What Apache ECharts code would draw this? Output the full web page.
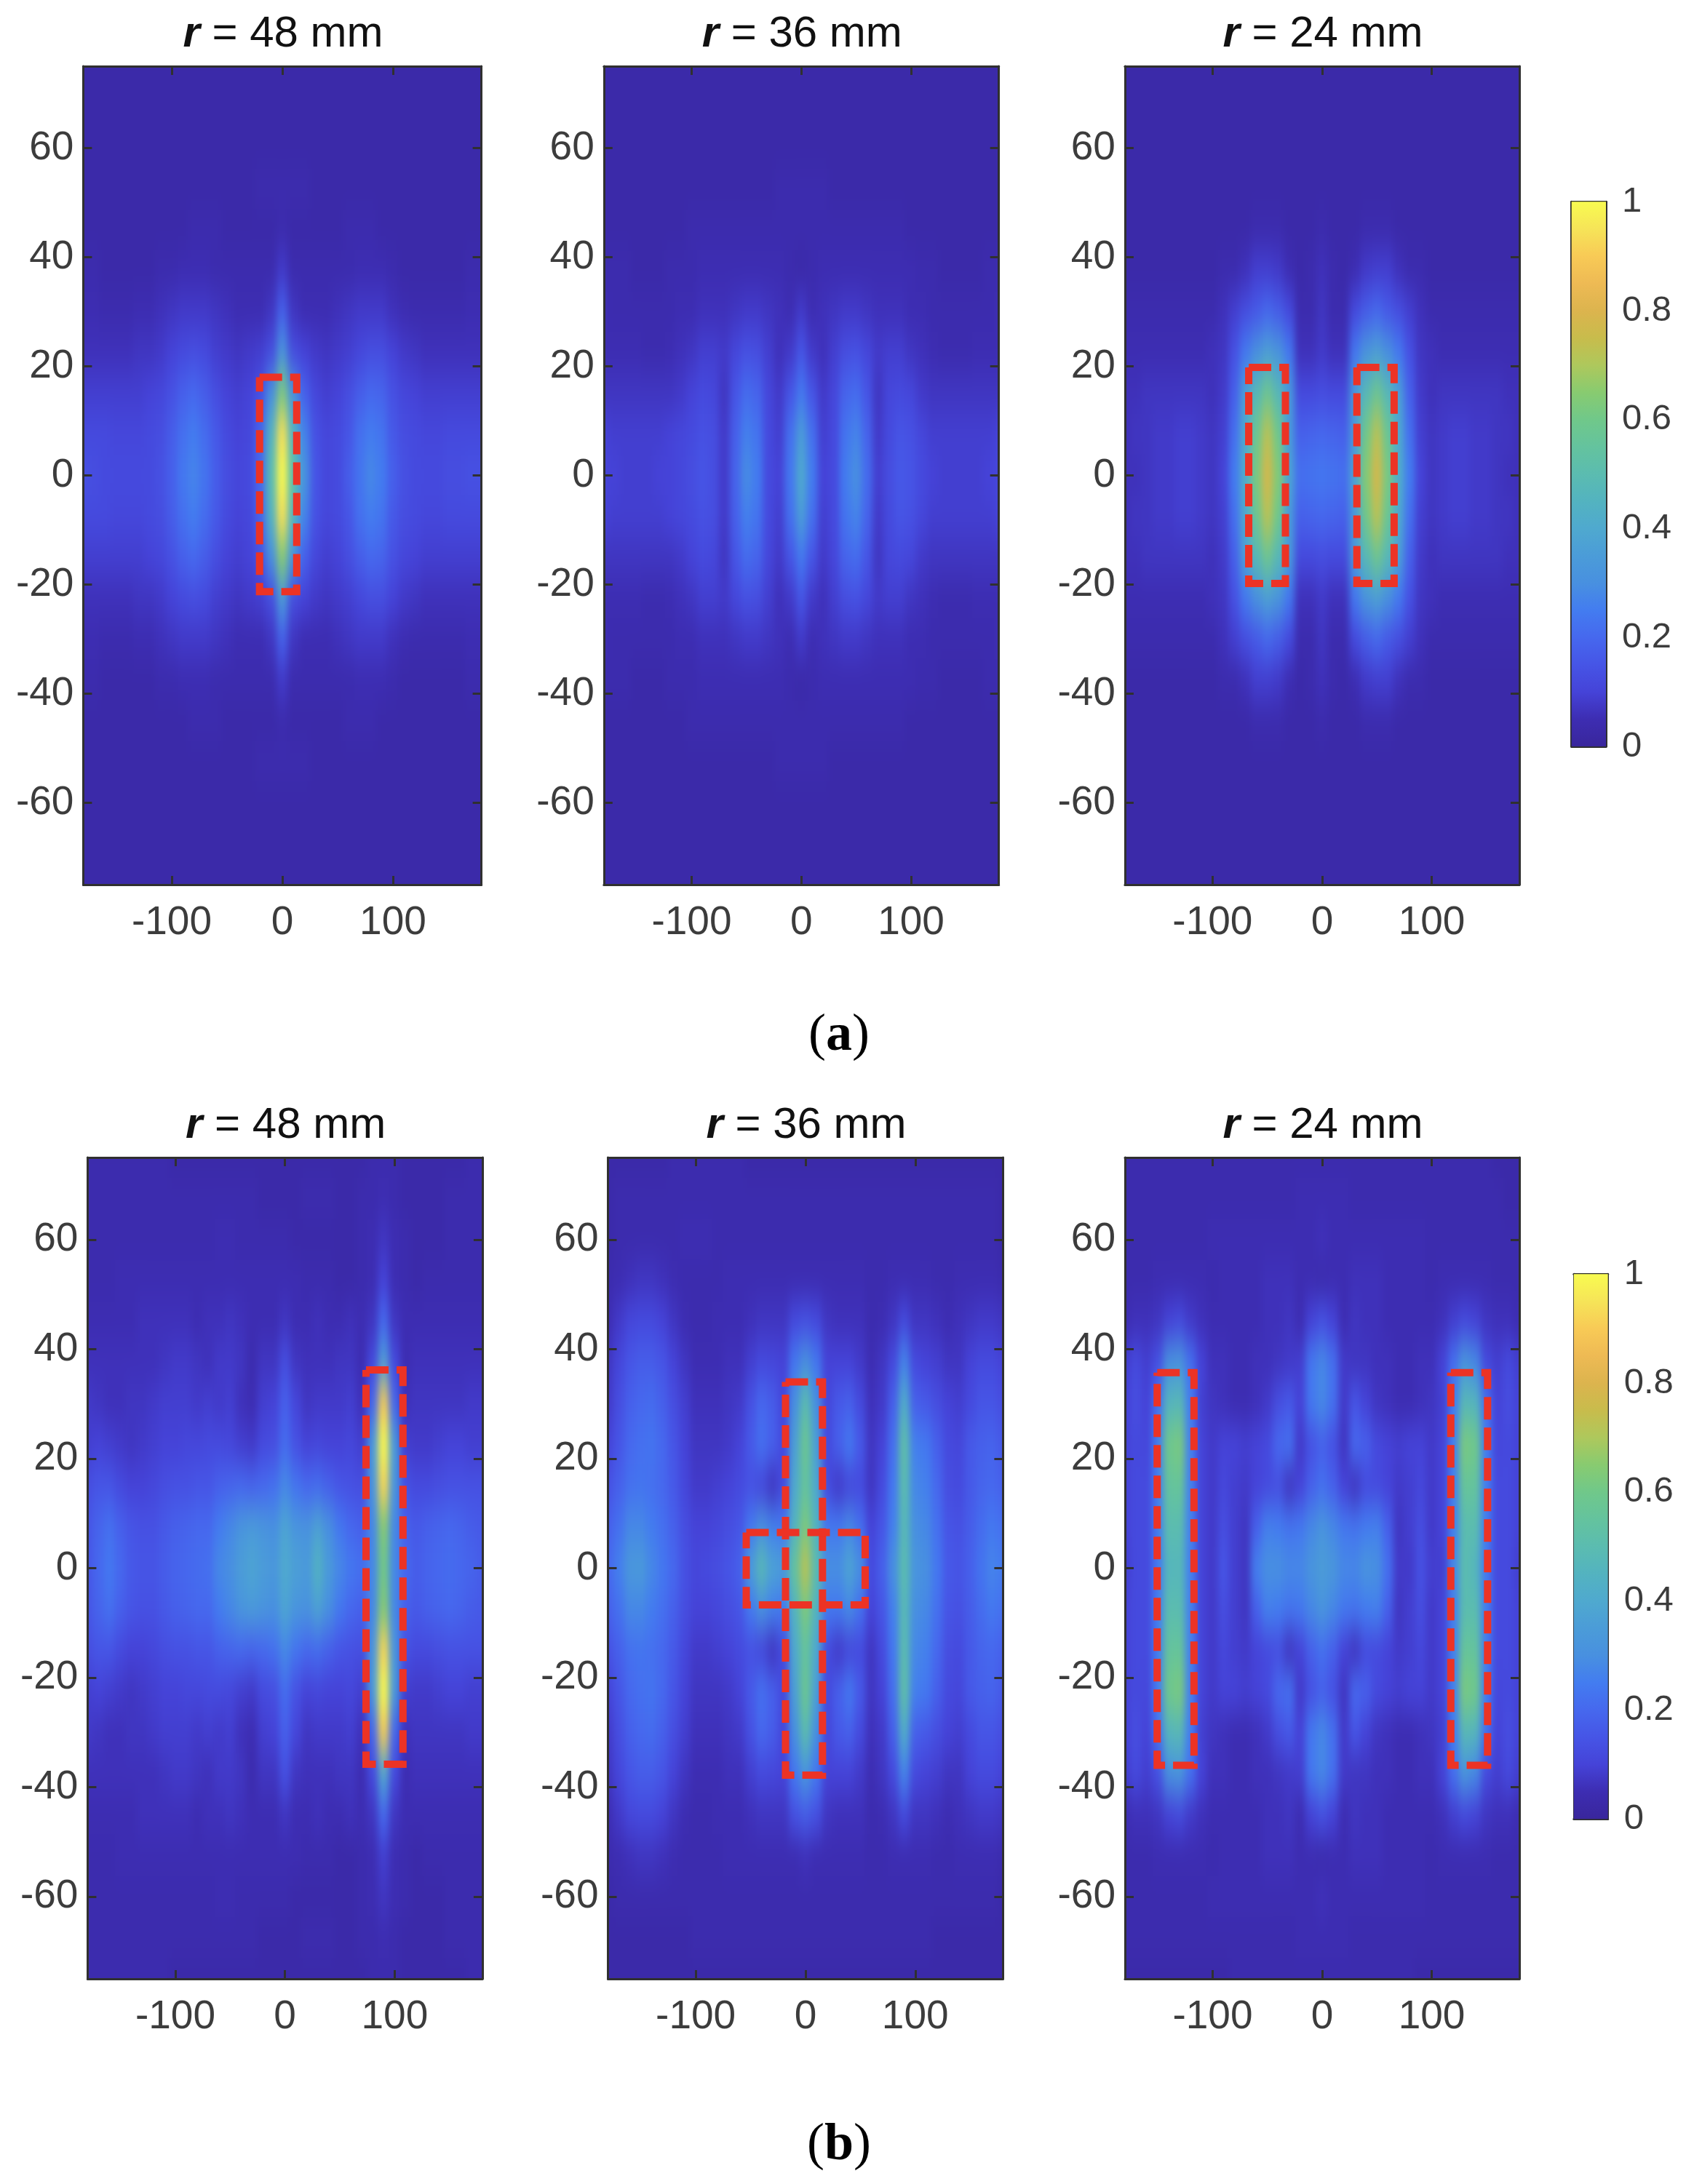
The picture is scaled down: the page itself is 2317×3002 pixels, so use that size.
<!DOCTYPE html>
<html><head><meta charset="utf-8">
<script src="https://cdn.jsdelivr.net/npm/echarts@6/dist/echarts.min.js"></script>
<style>
html,body{margin:0;padding:0;background:#fff}
#clip,#under,#over{position:absolute;left:0;top:0;width:2317px;height:3002px}
#under{filter:url(#soft)}
</style></head><body>
<svg width="0" height="0" style="position:absolute"><filter id="soft" x="0" y="0" width="100%" height="100%" color-interpolation-filters="sRGB"><feGaussianBlur stdDeviation="5 22"/></filter></svg>
<div id="clip"><div id="under"></div></div>
<div id="over"></div>
<script>
// Sampled x positions, mm
const xSamples = [-180,-170,-160,-150,-140,-130,-120,-110,-100,-90,-80,-70,-60,-50,-40,-30,-20,-10,0,10,20,30,40,50,60,70,80,90,100,110,120,130,140,150,160,170,180];
// Sampled y positions, mm
const ySamples = [75,67.5,60,52.5,45,37.5,30,22.5,15,7.5,0,-7.5,-15,-22.5,-30,-37.5,-45,-52.5,-60,-67.5,-75];
const xTicks = [-100,0,100];
const yTicks = [-60,-40,-20,0,20,40,60];
const titlesR = ['48','36','24'];

// Normalised intensity, percent
const a1 = [
[3,3,3,3,3,3,3,3,3,3,3,3,3,3,3,3,3,3,3,3,3,3,3,3,3,3,3,3,3,3,3,3,3,3,3,3,3],
[3,3,3,3,3,3,3,3,3,3,3,3,3,3,3,3,3,3,3,3,3,3,3,3,3,3,3,3,3,3,3,3,3,3,3,3,3],
[3,3,3,3,3,3,3,3,3,3,3,3,3,3,3,3,3,3,3,3,3,3,3,3,3,3,3,3,3,3,3,3,3,3,3,3,3],
[3,3,3,3,3,3,3,3,3,3,3,3,3,3,3,3,4,4,4,4,4,3,3,3,3,3,3,3,3,3,3,3,3,3,3,3,3],
[3,3,3,3,3,3,3,3,3,3,4,4,4,3,3,3,3,3,4,3,3,3,3,3,4,4,4,3,3,3,3,3,3,3,3,3,3],
[4,4,3,3,3,3,3,4,4,5,5,5,4,4,4,4,4,4,8,4,4,4,4,4,4,5,5,5,4,3,3,3,3,3,3,4,4],
[5,5,4,4,4,5,5,6,7,8,8,8,7,6,5,5,5,7,18,7,5,5,5,6,7,8,8,8,6,5,4,4,4,4,4,5,5],
[6,6,6,6,6,7,7,8,10,12,13,12,9,8,7,8,9,13,32,13,10,8,7,8,9,11,13,13,10,8,7,6,6,6,6,6,6],
[9,9,9,9,9,9,10,11,14,18,20,17,13,10,9,10,14,30,62,32,18,11,9,10,13,17,20,19,14,11,10,9,9,9,9,9,9],
[12,12,12,11,11,11,12,13,17,22,25,21,16,12,10,11,19,45,94,46,27,14,11,12,15,22,25,23,16,13,12,11,11,12,12,12,12],
[14,13,12,12,12,12,12,14,18,24,27,23,17,13,11,12,20,50,100,52,32,15,11,12,17,23,28,25,18,14,12,12,12,13,13,14,14],
[12,12,12,11,11,11,12,13,17,22,25,21,16,12,10,11,19,45,94,46,27,14,11,12,15,22,25,23,16,13,12,11,11,12,12,12,12],
[9,9,9,9,9,9,10,11,14,18,20,17,13,10,9,10,14,30,64,32,18,11,9,10,13,17,20,19,14,11,10,9,9,9,9,9,9],
[6,6,6,6,6,7,7,8,10,12,13,12,9,8,7,8,9,13,34,13,10,8,7,8,9,11,13,13,10,8,7,6,6,6,6,6,6],
[5,5,4,4,4,5,5,6,7,8,8,8,7,6,5,5,5,7,18,7,5,5,5,6,7,8,8,8,6,5,4,4,4,4,4,5,5],
[4,4,3,3,3,3,3,4,4,5,5,5,4,4,4,4,4,4,8,4,4,4,4,4,4,5,5,5,4,3,3,3,3,3,3,4,4],
[3,3,3,3,3,3,3,3,3,3,4,4,4,3,3,3,3,3,4,3,3,3,3,3,4,4,4,3,3,3,3,3,3,3,3,3,3],
[3,3,3,3,3,3,3,3,3,3,3,3,3,3,3,3,4,4,4,4,4,3,3,3,3,3,3,3,3,3,3,3,3,3,3,3,3],
[3,3,3,3,3,3,3,3,3,3,3,3,3,3,3,3,3,3,3,3,3,3,3,3,3,3,3,3,3,3,3,3,3,3,3,3,3],
[3,3,3,3,3,3,3,3,3,3,3,3,3,3,3,3,3,3,3,3,3,3,3,3,3,3,3,3,3,3,3,3,3,3,3,3,3],
[3,3,3,3,3,3,3,3,3,3,3,3,3,3,3,3,3,3,3,3,3,3,3,3,3,3,3,3,3,3,3,3,3,3,3,3,3]
];
const a2 = [
[3,3,3,3,3,3,3,3,3,3,3,3,3,3,3,3,3,3,3,3,3,3,3,3,3,3,3,3,3,3,3,3,3,3,3,3,3],
[3,3,3,3,3,3,3,3,3,3,3,3,3,3,3,3,3,3,3,3,3,3,3,3,3,3,3,3,3,3,3,3,3,3,3,3,3],
[3,3,3,3,3,3,3,3,3,3,3,3,3,3,3,3,3,3,3,3,3,3,3,3,3,3,3,3,3,3,3,3,3,3,3,3,3],
[3,3,3,3,3,3,3,3,3,3,3,3,3,3,3,3,4,4,4,4,4,3,3,3,3,3,3,3,3,3,3,3,3,3,3,3,3],
[3,3,3,3,3,3,3,3,4,4,4,4,4,4,4,4,4,4,4,4,4,4,4,4,4,4,4,4,3,3,3,3,3,3,3,3,3],
[4,4,4,3,3,3,4,4,4,5,5,5,5,5,5,5,5,4,3,4,5,5,5,5,5,5,5,5,5,4,4,3,3,3,3,4,4],
[5,4,4,4,4,4,4,5,5,6,6,6,7,8,8,7,6,5,8,5,6,7,8,8,7,6,6,6,5,5,4,4,4,4,4,4,5],
[5,5,5,5,4,4,5,6,7,9,9,8,11,14,13,9,6,8,15,8,6,9,13,14,11,8,9,9,7,6,5,4,4,4,5,5,5],
[7,7,7,7,7,7,7,8,10,12,11,7,15,21,19,11,8,15,24,15,8,11,19,21,15,7,11,12,11,8,7,7,7,7,7,7,7],
[10,9,9,9,9,9,10,11,12,14,13,8,18,26,23,12,9,22,35,22,9,12,23,27,19,8,12,15,14,11,9,9,9,9,9,9,10],
[10,10,9,9,9,10,10,11,13,15,13,8,19,29,25,12,10,24,40,25,10,12,25,30,21,9,13,16,15,12,10,9,9,9,9,10,11],
[10,9,9,9,9,9,10,11,12,14,13,8,18,26,23,12,9,22,35,22,9,12,23,27,19,8,12,15,14,11,9,9,9,9,9,9,10],
[7,7,7,7,7,7,7,8,10,12,11,7,15,21,19,11,8,15,24,15,8,11,19,21,15,7,11,12,11,8,7,7,7,7,7,7,7],
[5,5,5,5,4,4,5,6,7,9,9,8,11,14,13,9,6,8,15,8,6,9,13,14,11,8,9,9,7,6,5,4,4,4,5,5,5],
[5,4,4,4,4,4,4,5,5,6,6,6,7,8,8,7,6,5,8,5,6,7,8,8,7,6,6,6,5,5,4,4,4,4,4,4,5],
[4,4,4,3,3,3,4,4,4,5,5,5,5,5,5,5,5,4,3,4,5,5,5,5,5,5,5,5,5,4,4,3,3,3,3,4,4],
[3,3,3,3,3,3,3,3,4,4,4,4,4,4,4,4,4,4,4,4,4,4,4,4,4,4,4,4,3,3,3,3,3,3,3,3,3],
[3,3,3,3,3,3,3,3,3,3,3,3,3,3,3,3,4,4,4,4,4,3,3,3,3,3,3,3,3,3,3,3,3,3,3,3,3],
[3,3,3,3,3,3,3,3,3,3,3,3,3,3,3,3,3,3,3,3,3,3,3,3,3,3,3,3,3,3,3,3,3,3,3,3,3],
[3,3,3,3,3,3,3,3,3,3,3,3,3,3,3,3,3,3,3,3,3,3,3,3,3,3,3,3,3,3,3,3,3,3,3,3,3],
[3,3,3,3,3,3,3,3,3,3,3,3,3,3,3,3,3,3,3,3,3,3,3,3,3,3,3,3,3,3,3,3,3,3,3,3,3]
];
const a3 = [
[3,3,3,3,3,3,3,3,3,3,3,3,3,3,3,3,3,3,3,3,3,3,3,3,3,3,3,3,3,3,3,3,3,3,3,3,3],
[3,3,3,3,3,3,3,3,3,3,3,3,3,3,3,3,3,3,3,3,3,3,3,3,3,3,3,3,3,3,3,3,3,3,3,3,3],
[3,3,3,3,3,3,3,3,3,3,3,3,3,3,3,3,3,3,3,3,3,3,3,3,3,3,3,3,3,3,3,3,3,3,3,3,3],
[3,3,3,3,3,3,3,3,3,3,3,3,3,3,3,3,3,3,3,3,3,3,3,3,3,3,3,3,3,3,3,3,3,3,3,3,3],
[3,3,3,3,3,3,3,3,3,3,3,3,4,4,4,3,3,3,4,3,3,3,4,4,4,3,3,3,3,3,3,3,3,3,3,3,3],
[3,3,3,3,3,3,3,3,3,4,4,6,9,9,8,5,3,4,6,4,3,5,8,9,9,6,4,4,3,3,3,3,3,3,3,3,3],
[4,4,4,4,4,4,4,4,4,6,9,13,16,20,17,12,4,4,7,4,4,12,17,20,16,13,9,6,4,4,4,4,4,4,4,4,4],
[5,5,5,5,5,5,5,5,6,7,14,24,30,36,32,24,6,6,8,6,6,24,32,36,30,24,14,7,6,5,5,5,5,5,5,5,5],
[6,6,7,7,7,7,7,7,6,8,18,36,48,58,48,34,12,12,13,12,12,34,48,58,48,36,18,8,6,7,7,7,7,7,7,6,6],
[6,7,7,8,8,9,9,8,7,9,22,40,58,72,60,34,18,19,20,19,18,34,60,72,58,40,22,9,7,8,9,9,8,8,7,7,6],
[6,6,7,8,8,9,9,8,7,10,25,42,62,78,64,38,22,23,24,23,22,38,64,78,62,42,25,10,7,8,9,9,8,8,7,6,6],
[6,7,7,8,8,9,9,8,7,9,22,40,58,72,60,34,18,19,20,19,18,34,60,72,58,40,22,9,7,8,9,9,8,8,7,7,6],
[6,6,7,7,7,7,7,7,6,8,18,36,48,58,48,34,12,12,13,12,12,34,48,58,48,36,18,8,6,7,7,7,7,7,7,6,6],
[5,5,5,5,5,5,5,5,6,7,14,24,30,36,32,24,6,6,8,6,6,24,32,36,30,24,14,7,6,5,5,5,5,5,5,5,5],
[4,4,4,4,4,4,4,4,4,6,9,13,16,20,17,12,4,4,7,4,4,12,17,20,16,13,9,6,4,4,4,4,4,4,4,4,4],
[3,3,3,3,3,3,3,3,3,4,4,6,9,9,8,5,3,4,6,4,3,5,8,9,9,6,4,4,3,3,3,3,3,3,3,3,3],
[3,3,3,3,3,3,3,3,3,3,3,3,4,4,4,3,3,3,4,3,3,3,4,4,4,3,3,3,3,3,3,3,3,3,3,3,3],
[3,3,3,3,3,3,3,3,3,3,3,3,3,3,3,3,3,3,3,3,3,3,3,3,3,3,3,3,3,3,3,3,3,3,3,3,3],
[3,3,3,3,3,3,3,3,3,3,3,3,3,3,3,3,3,3,3,3,3,3,3,3,3,3,3,3,3,3,3,3,3,3,3,3,3],
[3,3,3,3,3,3,3,3,3,3,3,3,3,3,3,3,3,3,3,3,3,3,3,3,3,3,3,3,3,3,3,3,3,3,3,3,3],
[3,3,3,3,3,3,3,3,3,3,3,3,3,3,3,3,3,3,3,3,3,3,3,3,3,3,3,3,3,3,3,3,3,3,3,3,3]
];
const b1 = [
[4,4,4,4,4,4,4,4,3,3,3,3,3,3,3,3,3,3,3,3,3,3,3,3,3,3,4,4,4,3,3,3,3,3,3,4,4],
[4,4,4,4,4,4,4,4,4,4,4,4,4,4,4,4,3,3,3,3,4,4,4,3,3,4,4,5,4,3,3,3,3,4,4,4,4],
[4,4,4,4,4,4,4,4,4,4,4,4,5,5,4,4,4,4,4,3,3,3,3,3,3,4,5,7,5,4,3,3,3,4,4,4,4],
[4,4,4,5,5,5,5,5,5,5,5,5,5,5,5,5,5,5,5,5,4,4,4,3,3,4,5,10,5,4,3,4,4,4,4,4,4],
[5,5,5,5,5,6,6,6,6,6,5,6,6,7,6,5,5,5,7,5,5,6,5,5,6,5,7,20,7,5,5,5,5,5,5,5,5],
[6,6,6,6,6,6,6,7,8,8,7,6,8,8,7,4,7,7,13,7,6,6,6,7,7,5,12,36,12,5,6,6,6,6,6,6,6],
[8,7,6,6,7,7,8,9,9,9,8,9,8,9,6,5,9,10,18,11,7,8,8,8,9,6,20,90,20,6,7,7,7,7,7,8,8],
[9,10,9,8,7,8,9,10,10,11,11,12,12,11,9,8,12,13,21,14,10,11,10,10,11,9,34,100,34,9,8,8,9,10,10,9,9],
[13,15,15,12,10,10,11,13,14,14,15,15,18,19,20,19,20,22,28,23,20,21,18,15,14,13,32,92,32,14,12,12,13,14,14,14,14],
[15,19,22,18,15,14,14,16,18,19,20,20,25,28,32,34,32,30,38,32,31,37,30,24,20,18,28,64,28,18,16,18,19,20,19,17,16],
[15,20,24,20,16,15,15,17,19,20,21,22,28,30,35,38,35,33,40,36,34,44,34,28,24,22,28,60,28,20,17,19,20,21,20,19,17],
[15,19,22,18,15,14,14,16,18,19,20,20,25,28,32,34,32,30,38,32,31,37,30,24,20,18,28,64,28,18,16,18,19,20,19,17,16],
[13,15,15,12,10,10,11,13,14,14,15,15,18,19,20,19,20,22,28,23,20,21,18,15,14,13,32,92,32,14,12,12,13,14,14,14,14],
[9,10,9,8,7,8,9,10,10,11,11,12,12,11,9,8,12,13,21,14,10,11,10,10,11,9,34,100,34,9,8,8,9,10,10,9,9],
[8,7,6,6,7,7,8,9,9,9,8,9,8,9,6,5,9,10,18,11,7,8,8,8,9,6,20,90,20,6,7,7,7,7,7,8,8],
[6,6,6,6,6,6,6,7,8,8,7,6,8,8,7,4,7,7,14,7,6,6,6,7,7,5,12,40,12,5,6,6,6,6,6,6,6],
[5,5,5,5,5,6,6,6,6,6,5,6,6,7,6,5,5,5,7,5,5,6,5,5,6,5,7,20,7,5,5,5,5,5,5,5,5],
[4,4,4,5,5,5,5,5,5,5,5,5,5,5,5,5,5,5,5,5,4,4,4,3,3,4,5,9,5,4,3,4,4,4,4,4,4],
[4,4,4,4,4,4,4,4,4,4,4,4,5,5,4,4,4,4,4,3,3,3,3,3,3,4,5,7,5,4,3,3,3,4,4,4,4],
[4,4,4,4,4,4,4,4,4,4,4,4,4,4,4,4,3,3,3,3,4,4,4,3,3,4,4,5,4,3,3,3,3,4,4,4,4],
[4,4,4,4,4,4,4,4,3,3,3,3,3,3,3,3,3,3,3,3,3,3,3,3,3,3,4,4,4,3,3,3,3,3,3,4,4]
];
const b2 = [
[3,3,3,3,3,3,4,4,4,4,4,4,4,3,3,3,3,3,3,3,3,3,3,3,3,3,3,3,3,3,3,3,3,3,3,3,3],
[3,4,4,4,4,4,4,4,4,4,4,4,4,4,4,4,4,4,4,4,4,4,4,4,4,4,4,4,4,4,4,4,4,4,4,4,3],
[3,4,4,4,4,4,4,5,5,5,4,4,4,4,4,4,4,4,4,4,4,4,4,4,4,4,4,4,4,4,4,4,4,4,4,4,3],
[4,5,6,7,7,6,5,4,4,4,4,5,5,5,5,5,5,5,5,5,5,5,5,5,4,4,5,5,5,5,4,4,5,5,5,5,4],
[5,8,11,12,12,10,7,5,4,4,5,5,5,6,7,7,7,12,14,12,7,6,6,6,4,5,7,12,7,7,6,5,6,7,8,8,7],
[7,11,15,17,17,15,10,7,5,5,5,6,6,9,12,11,10,24,30,24,10,10,10,8,5,7,12,27,12,10,9,7,7,10,12,12,10],
[8,13,18,20,21,18,13,9,6,6,6,7,8,14,20,17,11,30,50,30,11,16,18,12,6,8,18,42,18,16,13,10,9,12,15,15,13],
[10,15,20,22,23,20,15,10,7,7,7,8,10,16,22,18,12,36,58,36,12,18,24,16,7,10,22,52,26,24,18,12,11,16,18,19,16],
[14,18,22,23,22,20,16,11,8,8,9,10,12,14,11,7,12,40,55,40,12,8,11,12,7,12,24,50,28,26,20,13,12,16,19,20,18],
[18,22,28,28,25,22,18,13,10,10,11,13,15,24,30,26,24,45,62,45,24,24,28,22,10,15,26,48,30,28,22,15,14,17,21,24,22],
[20,26,33,34,28,24,20,14,11,12,13,15,18,35,48,38,35,55,72,50,30,30,38,30,12,18,30,50,32,30,24,16,15,18,23,27,25],
[18,22,28,28,25,22,18,13,10,10,11,13,15,24,30,26,24,45,62,45,24,24,28,22,10,15,26,48,30,28,22,15,14,17,21,24,22],
[14,18,22,23,22,20,16,11,8,8,9,10,12,14,11,7,12,40,55,40,12,8,11,12,7,12,24,50,28,26,20,13,12,16,19,20,18],
[10,15,20,22,23,20,15,10,7,7,7,8,10,16,22,18,12,36,58,36,12,18,24,16,7,10,22,52,26,24,18,12,11,16,18,19,16],
[8,13,18,20,21,18,13,9,6,6,6,7,8,14,20,17,11,30,50,30,11,16,18,12,6,8,18,42,18,16,13,10,9,12,15,15,13],
[7,11,15,17,17,15,10,7,5,5,5,6,6,9,12,11,10,24,32,24,10,10,10,8,5,7,12,27,12,10,9,7,7,10,12,12,10],
[5,8,11,12,12,10,7,5,4,4,5,5,5,6,7,7,7,14,17,14,7,6,6,6,4,5,7,12,7,7,6,5,6,7,8,8,7],
[4,5,6,7,7,6,5,4,4,4,4,5,5,5,5,5,5,5,6,5,5,5,5,5,4,4,5,5,5,5,4,4,5,5,5,5,4],
[3,4,4,4,4,4,4,4,4,4,4,4,4,4,4,4,4,4,4,4,4,4,4,4,4,4,4,4,4,4,4,4,4,4,4,4,3],
[3,3,3,3,3,3,3,3,4,4,4,4,4,4,4,4,4,4,4,4,4,4,4,4,4,4,4,4,4,4,3,3,3,3,3,3,3],
[3,3,3,3,3,3,3,3,3,3,3,3,3,3,3,3,3,3,3,3,3,3,3,3,3,3,3,3,3,3,3,3,3,3,3,3,3]
];
const b3 = [
[4,4,4,4,4,4,4,4,4,4,4,4,4,4,4,4,4,4,4,4,4,4,4,4,4,4,4,4,4,4,4,4,4,4,3,3,3],
[4,4,4,4,4,4,4,4,4,4,4,4,4,4,4,4,5,5,5,5,5,4,4,4,4,4,4,4,4,4,4,4,4,4,4,3,3],
[4,4,4,4,4,4,4,4,5,5,5,5,5,5,5,5,5,5,6,5,5,5,5,5,5,5,5,5,4,4,4,4,4,4,4,4,4],
[4,4,4,5,5,5,5,5,4,5,5,5,5,6,6,6,5,5,4,5,5,6,6,6,5,5,5,5,4,5,5,5,5,5,4,4,4],
[5,6,6,7,10,12,8,6,5,5,5,5,5,6,6,7,5,10,14,10,5,7,6,6,5,5,5,5,5,6,9,12,10,7,6,6,5],
[9,12,9,14,30,32,22,10,6,6,5,5,6,6,7,8,9,24,28,22,8,7,7,6,6,5,5,6,6,10,22,32,28,12,9,12,9],
[10,13,10,22,46,48,25,9,7,6,5,5,6,8,13,16,10,24,28,22,8,15,10,7,6,5,5,6,7,9,25,48,46,22,10,13,10],
[10,12,11,25,60,62,26,10,8,10,10,9,10,12,20,22,8,14,18,14,7,20,18,12,10,9,10,10,8,10,26,62,60,25,11,12,10],
[10,12,12,25,55,56,26,10,8,11,9,8,10,12,13,7,10,18,22,18,10,7,12,12,10,8,9,11,8,10,26,56,55,25,12,12,10],
[10,12,12,25,50,50,26,10,8,13,9,7,18,26,25,23,24,28,32,28,24,23,25,26,18,7,9,13,8,10,26,50,50,25,12,12,10],
[9,12,12,24,46,47,26,10,8,15,9,7,26,30,30,28,28,32,35,33,28,28,32,30,22,8,8,14,9,9,28,50,46,24,12,12,9],
[10,12,12,25,50,50,26,10,8,13,9,7,18,26,25,23,24,28,32,28,24,23,25,26,18,7,9,13,8,10,26,50,50,25,12,12,10],
[10,12,12,25,55,56,26,10,8,11,9,8,10,12,13,7,10,18,22,18,10,7,12,12,10,8,9,11,8,10,26,56,55,25,12,12,10],
[10,12,11,25,60,62,26,10,8,10,10,9,10,12,20,22,8,14,18,14,7,20,18,12,10,9,10,10,8,10,26,62,60,25,11,12,10],
[10,13,10,22,46,48,25,9,7,6,5,5,6,8,13,16,10,24,28,22,8,15,10,7,6,5,5,6,7,9,25,48,46,22,10,13,10],
[9,12,9,14,30,32,22,10,6,6,5,5,6,6,7,8,9,24,28,22,8,7,7,6,6,5,5,6,6,10,22,32,28,12,9,12,9],
[5,6,6,7,10,12,8,6,5,5,5,5,5,6,6,7,5,10,14,10,5,7,6,6,5,5,5,5,5,6,9,12,10,7,6,6,5],
[4,4,4,5,5,5,5,5,4,5,5,5,5,6,6,6,5,5,4,5,5,6,6,6,5,5,5,5,4,5,5,5,5,5,4,4,4],
[4,4,4,4,4,4,4,4,5,5,5,5,5,5,5,5,5,5,6,5,5,5,5,5,5,5,5,5,4,4,4,4,4,4,4,4,4],
[4,4,4,4,4,4,4,4,4,4,4,4,4,4,4,4,5,5,5,5,5,4,4,4,4,4,4,4,4,4,4,4,4,4,4,4,4],
[3,3,3,3,3,3,3,3,3,3,4,4,4,4,4,4,4,4,4,4,4,4,4,4,4,4,4,3,3,3,3,3,3,3,3,3,3]
];

// Dashed outlines: [xMin, xMax, yTop, yBottom] in mm
const boxesA1 = [[-20.6,13,18,-21.3]];
const boxesA2 = [];
const boxesA3 = [[-67,-33.5,19.8,-19.8],[31.7,65.7,19.8,-19.8]];
const boxesB1 = [[73.9,107.6,36.2,-35.8]];
const boxesB2 = [[-18.2,15.5,34,-37.8],[-54,54.4,6.5,-6.7]];
const boxesB3 = [[-150.6,-117,35.7,-36],[117.4,151,35.7,-36]];

const parula = ['#39269c','#3d2db2','#4543d8','#4655e6','#4668ee','#437cf0','#4890e0','#4b9cd8','#4fa9cf','#53b3c0','#5bbcb0','#64c39e','#70c88a','#88cb70','#aec85c','#c8bc4c','#dcb44e','#eeba54','#f8ca56','#f6e458','#f8fb50'];

// Layout in page pixels
const panels = [
 {l:114.4,r:661.6,t:91,b:1216,d:a1,n:0,box:boxesA1},
 {l:829.8,r:1372.7,t:91,b:1216,d:a2,n:1,box:boxesA2},
 {l:1545.9,r:2088,t:91,b:1216,d:a3,n:2,box:boxesA3},
 {l:120.4,r:662.9,t:1591,b:2720,d:b1,n:0,box:boxesB1},
 {l:835.5,r:1378.4,t:1591,b:2720,d:b2,n:1,box:boxesB2},
 {l:1546,r:2088,t:1591,b:2720,d:b3,n:2,box:boxesB3}
];
const bars = [{l:2159.7,r:2207,t:277.3,b:1026},{l:2162.8,r:2209.7,t:1751.3,b:2500.3}];
const caps = [{t:'a',y:1423},{t:'b',y:2948}];
const ink = '#303030';
const labelFont = {fontFamily:'"Liberation Sans",Arial,sans-serif',fontSize:55,color:'#3c3c3c'};

// clip the softened layer to the plot rectangles
document.getElementById('clip').style.clipPath = "path('" + panels.map(p =>
  `M${p.l} ${p.t}H${p.r}V${p.b}H${p.l}Z`).join('') + "')";

// --- heat layer
const under = echarts.init(document.getElementById('under'),null,{renderer:'canvas',devicePixelRatio:1});
const uGrid=[],uX=[],uY=[],uS=[];
panels.forEach((p,i)=>{
  const ux=(p.r-p.l)/360, uy=(p.b-p.t)/150;
  uGrid.push({left:p.l-5*ux,top:p.t-3.75*uy,width:(p.r-p.l)+10*ux,height:(p.b-p.t)+7.5*uy,containLabel:false});
  uX.push({type:'category',gridIndex:i,data:xSamples.map(String),show:false,boundaryGap:true});
  uY.push({type:'category',gridIndex:i,data:ySamples.map(String),show:false,boundaryGap:true,inverse:true});
  const cells=[];
  p.d.forEach((row,ry)=>row.forEach((v,cx)=>cells.push([cx,ry,v/100])));
  uS.push({type:'heatmap',xAxisIndex:i,yAxisIndex:i,data:cells,progressive:0,animation:false,emphasis:{disabled:true},itemStyle:{borderWidth:0}});
});
under.setOption({animation:false,backgroundColor:'#3a279f',grid:uGrid,xAxis:uX,yAxis:uY,series:uS,
  visualMap:{show:false,min:0,max:1,seriesIndex:uS.map((s,i)=>i),inRange:{color:parula}}});

// --- axes, outlines, colour bars, text
const over = echarts.init(document.getElementById('over'),null,{renderer:'canvas',devicePixelRatio:1});
const grid=[],xAxis=[],yAxis=[],series=[],title=[];
const line={show:true,onZero:false,lineStyle:{color:ink,width:3}};
const tick={show:true,inside:true,length:12,lineStyle:{color:ink,width:3}};
panels.forEach((p,i)=>{
  grid.push({left:p.l,top:p.t,width:p.r-p.l,height:p.b-p.t});
  const xBase={type:'value',gridIndex:i,min:-180,max:180,splitLine:{show:false},axisLine:line};
  const yBase={type:'value',gridIndex:i,min:-75,max:75,splitLine:{show:false},axisLine:line};
  xAxis.push({...xBase,position:'bottom',axisTick:{...tick,customValues:xTicks},
    axisLabel:{...labelFont,margin:25,customValues:xTicks,hideOverlap:false}});
  xAxis.push({...xBase,position:'top',axisTick:{...tick,customValues:xTicks},axisLabel:{show:false}});
  yAxis.push({...yBase,position:'left',axisTick:{...tick,customValues:yTicks},
    axisLabel:{...labelFont,margin:13,padding:[14,0,0,0],customValues:yTicks,hideOverlap:false}});
  yAxis.push({...yBase,position:'right',axisTick:{...tick,customValues:yTicks},axisLabel:{show:false}});
  p.box.forEach(b=>series.push({type:'line',xAxisIndex:2*i,yAxisIndex:2*i,symbol:'none',silent:true,animation:false,
    data:[[b[0],b[2]],[b[1],b[2]],[b[1],b[3]],[b[0],b[3]],[b[0],b[2]]],
    lineStyle:{color:'#ec3325',width:10,type:[31,11],cap:'butt',join:'miter'}}));
  title.push({text:'{b|r} = '+titlesR[p.n]+' mm',left:(p.l+p.r)/2-4,top:p.t-79,textAlign:'center',
    textStyle:{fontFamily:'"Liberation Sans",Arial,sans-serif',fontSize:60,fontWeight:'normal',color:'#111',
      rich:{b:{fontFamily:'"Liberation Sans",Arial,sans-serif',fontSize:60,fontWeight:'bold',fontStyle:'italic',color:'#111'}}}});
});
const barGradient=new echarts.graphic.LinearGradient(0,1,0,0,parula.map((c,i)=>({offset:i/(parula.length-1),color:c})));
bars.forEach(c=>{
  const g=grid.length;
  grid.push({left:c.l,top:c.t,width:c.r-c.l,height:c.b-c.t});
  const xi=xAxis.length, yi=yAxis.length;
  xAxis.push({type:'category',gridIndex:g,data:['scale'],position:'bottom',axisLine:line,axisTick:{show:false},axisLabel:{show:false},boundaryGap:true});
  xAxis.push({type:'category',gridIndex:g,data:['scale'],position:'top',axisLine:line,axisTick:{show:false},axisLabel:{show:false},boundaryGap:true});
  yAxis.push({type:'value',gridIndex:g,min:0,max:1,position:'right',interval:0.2,splitLine:{show:false},axisLine:line,
    axisTick:{...tick,length:10},axisLabel:{...labelFont,fontSize:49,margin:22,padding:[10,0,0,0]}});
  yAxis.push({type:'value',gridIndex:g,min:0,max:1,position:'left',interval:0.2,splitLine:{show:false},axisLine:line,axisTick:{show:false},axisLabel:{show:false}});
  series.push({type:'bar',xAxisIndex:xi,yAxisIndex:yi,data:[1],barWidth:'100%',silent:true,animation:false,itemStyle:{color:barGradient},z:1});
});
caps.forEach(c=>title.push({text:'{p|(}{l|'+c.t+'}{p|)}',left:1148,top:c.y-40,textAlign:'center',
  textStyle:{rich:{p:{fontFamily:'"Liberation Serif",serif',fontSize:72,fontWeight:'normal',color:'#000'},l:{fontFamily:'"Liberation Serif",serif',fontSize:72,fontWeight:'bold',color:'#000'}}}}));
over.setOption({animation:false,backgroundColor:'transparent',title,grid,xAxis,yAxis,series});
</script>
</body></html>
